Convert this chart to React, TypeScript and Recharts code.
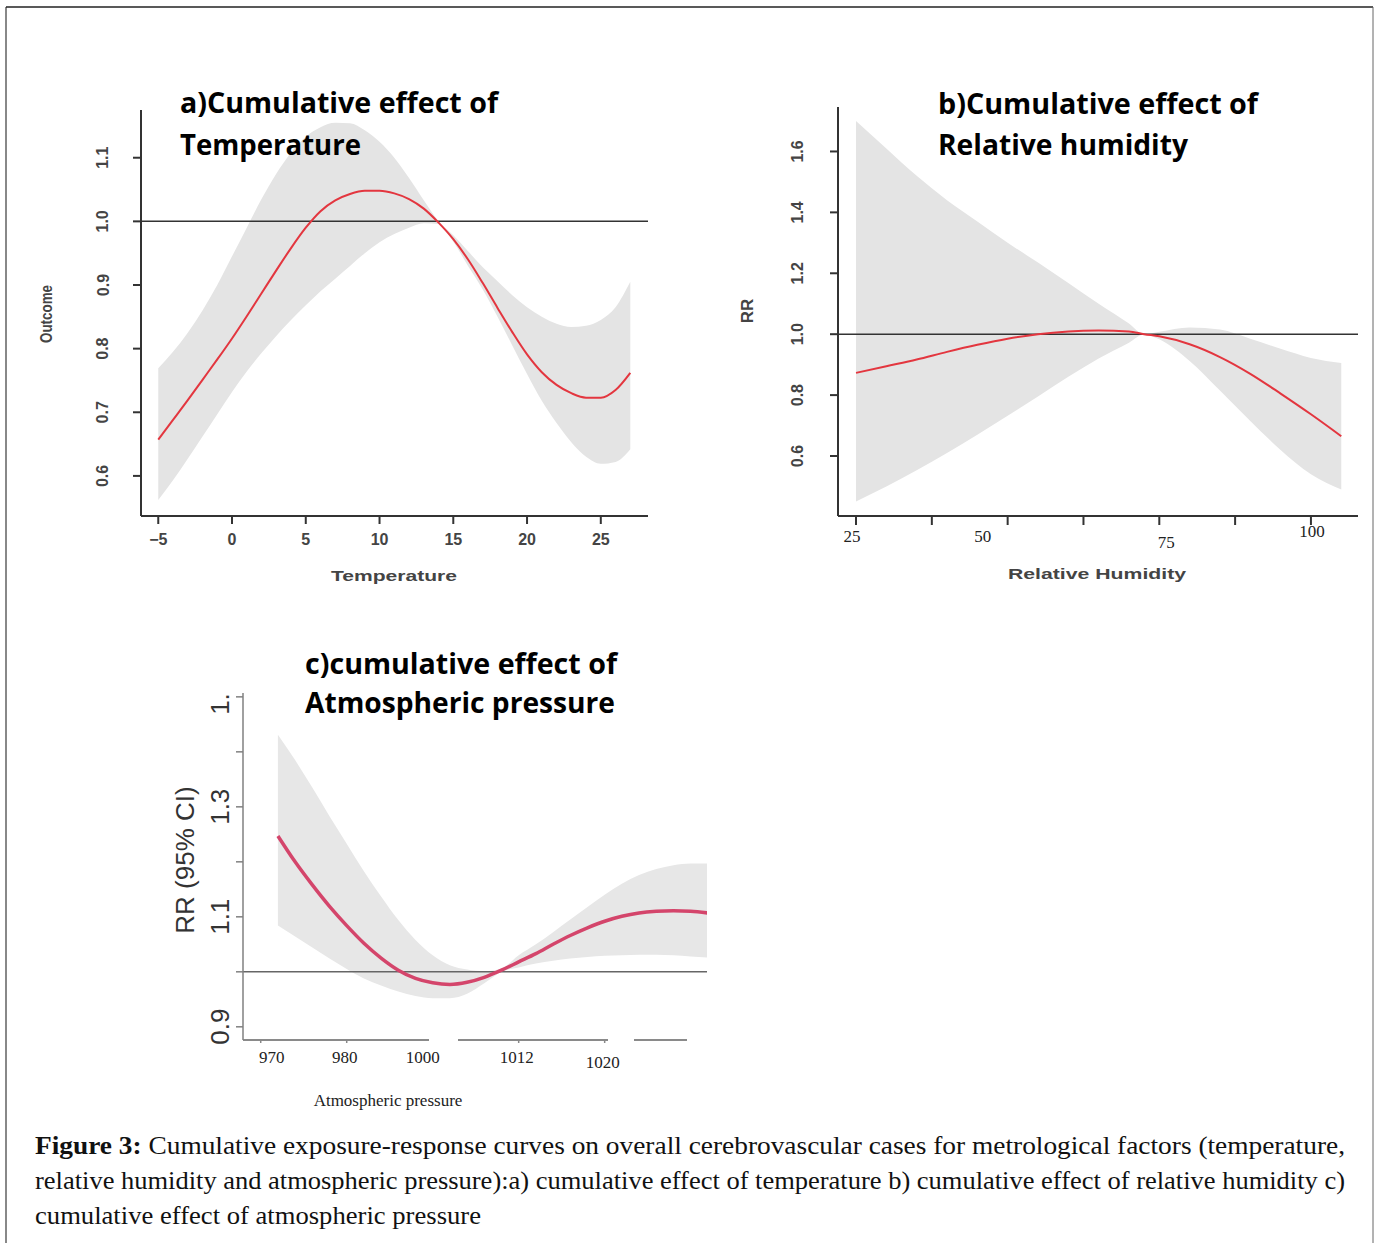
import React from "react";
import { ComposedChart, Area, Line, XAxis, YAxis, ReferenceLine } from "recharts";

// a) temperature
const TEMP = [-5, -4, -3, -2, -1, 0, 1, 2, 3, 4, 5, 6, 7, 8, 9, 10, 11, 12, 13, 14, 15, 16, 17, 18, 19, 20, 21, 22, 23, 24, 25, 26, 27];
const TEMP_RR = [0.657, 0.688, 0.719, 0.751, 0.783, 0.816, 0.851, 0.887, 0.923, 0.958, 0.99, 1.016, 1.033, 1.043, 1.048, 1.048, 1.044, 1.035, 1.02, 0.998, 0.972, 0.94, 0.903, 0.864, 0.826, 0.791, 0.763, 0.743, 0.73, 0.723, 0.723, 0.735, 0.762];
const TEMP_LO = [0.562, 0.593, 0.627, 0.662, 0.697, 0.732, 0.764, 0.793, 0.82, 0.845, 0.868, 0.89, 0.91, 0.93, 0.95, 0.967, 0.98, 0.99, 0.997, 0.996, 0.968, 0.93, 0.893, 0.85, 0.805, 0.76, 0.718, 0.683, 0.653, 0.63, 0.619, 0.622, 0.642];
const TEMP_HI = [0.769, 0.795, 0.825, 0.86, 0.9, 0.945, 0.99, 1.035, 1.075, 1.108, 1.133, 1.148, 1.155, 1.154, 1.143, 1.125, 1.1, 1.068, 1.033, 1.0, 0.978, 0.953, 0.928, 0.906, 0.884, 0.865, 0.85, 0.839, 0.834, 0.836, 0.845, 0.865, 0.905];
const TEMP_X_TICKS = [-5, 0, 5, 10, 15, 20, 25];
const TEMP_Y_TICKS = [0.6, 0.7, 0.8, 0.9, 1.0, 1.1];

// b) relative humidity
const RH = [25, 30, 35, 40, 45, 50, 55, 60, 65, 70, 72.5, 75, 80, 85, 90, 95, 100, 105];
const RH_RR = [0.873, 0.895, 0.917, 0.942, 0.965, 0.985, 1.0, 1.009, 1.012, 1.009, 1.0, 0.993, 0.967, 0.925, 0.87, 0.805, 0.737, 0.665];
const RH_LO = [0.451, 0.5, 0.553, 0.61, 0.67, 0.732, 0.795, 0.86, 0.92, 0.972, 1.0, 0.983, 0.912, 0.815, 0.715, 0.62, 0.54, 0.49];
const RH_HI = [1.7, 1.61, 1.52, 1.44, 1.37, 1.3, 1.235, 1.168, 1.1, 1.035, 1.0, 1.008, 1.022, 1.015, 0.985, 0.952, 0.922, 0.905];
const RH_X_TICKS = [25, 37.5, 50, 62.5, 75, 87.5, 100];
const RH_X_LABELS = ["25", "", "50", "", "75", "", "100"];
const RH_Y_TICKS = [0.6, 0.8, 1.0, 1.2, 1.4, 1.6];

// c) atmospheric pressure
const PRES = [972, 974, 976, 978, 980, 982, 984, 986, 988, 990, 992, 994, 996, 998, 1000, 1002, 1004, 1006, 1008, 1010, 1012, 1014, 1016, 1018, 1020, 1022];
const PRES_RR = [1.247, 1.2, 1.158, 1.119, 1.084, 1.052, 1.025, 1.003, 0.988, 0.98, 0.977, 0.981, 0.99, 1.003, 1.018, 1.033, 1.05, 1.066, 1.08, 1.092, 1.101, 1.107, 1.11, 1.111, 1.11, 1.107];
const PRES_LO = [1.084, 1.064, 1.044, 1.024, 1.005, 0.988, 0.975, 0.964, 0.956, 0.952, 0.952, 0.96, 0.979, 1.0, 1.008, 1.015, 1.02, 1.024, 1.027, 1.029, 1.03, 1.031, 1.031, 1.03, 1.028, 1.026];
const PRES_HI = [1.431, 1.385, 1.335, 1.283, 1.233, 1.183, 1.137, 1.094, 1.058, 1.03, 1.012, 1.004, 1.001, 1.006, 1.03, 1.05, 1.072, 1.095, 1.118, 1.14, 1.16, 1.176, 1.187, 1.194, 1.197, 1.197];
const PRES_X_TICKS = [970, 980, 990, 1000, 1010];
const PRES_X_LABELS = ["970", "980", "1000", "1012", "1020"];
const PRES_Y_TICKS = [0.9, 1.0, 1.1, 1.2, 1.3, 1.4, 1.5];
const PRES_Y_LABELS = ["0.9", "", "1.1", "", "1.3", "", "1."];

const rows = (xs: number[], rr: number[], lo: number[], hi: number[]) =>
  xs.map((x, i) => ({ x, rr: rr[i], band: [lo[i], hi[i]] }));

const tempData = rows(TEMP, TEMP_RR, TEMP_LO, TEMP_HI);
const rhData = rows(RH, RH_RR, RH_LO, RH_HI);
const presData = rows(PRES, PRES_RR, PRES_LO, PRES_HI);

const SANS = "Liberation Sans, Arial, sans-serif";
const SERIF = "Liberation Serif, Times New Roman, serif";
const TITLE = "Open Sans, Noto Sans, sans-serif";

// rotated y tick label, centred `offset` px left of the tick end
const sideTick = (offset: number, font: any, fmt: (v: number) => string, anchor = "middle", shift = 0) =>
  (props: any) => {
    const { x, y, payload } = props;
    const label = fmt(payload.value);
    if (!label) return <g />;
    const cx = x - offset;
    const cy = y + shift;
    return (
      <text x={cx} y={cy} transform={`rotate(-90 ${cx} ${cy})`} textAnchor={anchor} dominantBaseline="central" {...font}>
        {label}
      </text>
    );
  };

const tempXTick = (props: any) => {
  const { x, y, payload } = props;
  const v = payload.value;
  return (
    <text x={x} y={y + 15} textAnchor="middle" dominantBaseline="central" fontFamily={SANS} fontWeight="bold" fontSize={16} fill="#444">
      {v < 0 ? `\u2212${Math.abs(v)}` : v}
    </text>
  );
};

const RH_NUDGE = [[-4, 0], [0, 0], [-25, 0], [0, 0], [7, 6], [0, 0], [1, -5]];
const rhXTick = (props: any) => {
  const { x, y, payload } = props;
  const i = RH_X_TICKS.indexOf(payload.value);
  if (!RH_X_LABELS[i]) return <g />;
  return (
    <text x={x + RH_NUDGE[i][0]} y={y + 11 + RH_NUDGE[i][1]} textAnchor="middle" dominantBaseline="central" fontFamily={SERIF} fontSize={17} fill="#222">
      {RH_X_LABELS[i]}
    </text>
  );
};

const PRES_NUDGE = [[11, 0], [-2, 0], [-10, 0], [-2, 0], [-2, 5]];
const presXTick = (props: any) => {
  const { x, y, payload } = props;
  const i = PRES_X_TICKS.indexOf(payload.value);
  return (
    <g>
      {i !== 2 && <line x1={x} x2={x} y1={y - 3} y2={y} stroke="#888" strokeWidth={1.5} />}
      <text x={x + PRES_NUDGE[i][0]} y={y + 14 + PRES_NUDGE[i][1]} textAnchor="middle" dominantBaseline="central" fontFamily={SERIF} fontSize={17} fill="#222">
        {PRES_X_LABELS[i]}
      </text>
    </g>
  );
};

const boldY = { fontFamily: SANS, fontWeight: "bold", fontSize: 16, fill: "#444" };

const Panel = ({ left, top, width, height, margin, yWidth, data, xDomain, yDomain, xTicks, yTicks, xTick, yTick, axisColor, axisWidth, xAxisLine, tickSize, refColor, bandFill, lineColor, lineWidth }: any) => (
  <div style={{ position: "absolute", left, top, width, height }}>
    <ComposedChart width={width} height={height} data={data} margin={margin}>
      <XAxis
        type="number"
        dataKey="x"
        domain={xDomain}
        allowDataOverflow
        ticks={xTicks}
        interval={0}
        height={60}
        tick={xTick}
        tickSize={tickSize[0]}
        tickMargin={0}
        tickLine={tickSize[0] > 3 ? { stroke: axisColor, strokeWidth: axisWidth } : false}
        axisLine={xAxisLine || { stroke: axisColor, strokeWidth: axisWidth }}
      />
      <YAxis
        type="number"
        domain={yDomain}
        allowDataOverflow
        ticks={yTicks}
        interval={0}
        width={yWidth}
        tick={yTick}
        tickSize={tickSize[1]}
        tickMargin={0}
        tickLine={{ stroke: axisColor, strokeWidth: axisWidth }}
        axisLine={{ stroke: axisColor, strokeWidth: axisWidth }}
      />
      <Area type="monotone" dataKey="band" fill={bandFill} fillOpacity={1} stroke="none" isAnimationActive={false} />
      <ReferenceLine y={1} stroke={refColor} strokeWidth={1.5} />
      <Line type="monotone" dataKey="rr" stroke={lineColor} strokeWidth={lineWidth} dot={false} isAnimationActive={false} />
    </ComposedChart>
  </div>
);

export default function App() {
  return (
    <div style={{ position: "absolute", left: 0, top: 0, width: 1379, height: 1243, background: "#fff", overflow: "hidden" }}>
      <Panel
        left={20} top={90} width={650} height={520}
        margin={{ top: 20, right: 22, bottom: 34, left: 41 }} yWidth={80}
        data={tempData} xDomain={[-6.17, 28.2]} yDomain={[0.537, 1.175]}
        xTicks={TEMP_X_TICKS} yTicks={TEMP_Y_TICKS}
        xTick={tempXTick} yTick={sideTick(30, boldY, (v) => v.toFixed(1))}
        axisColor="#333" axisWidth={2} tickSize={[8, 8]}
        refColor="#333" bandFill="#e4e4e4" lineColor="#e3363f" lineWidth={2}
      />
      <Panel
        left={720} top={90} width={659} height={520}
        margin={{ top: 17, right: 21, bottom: 34, left: 38 }} yWidth={80}
        data={rhData} xDomain={[22.03, 107.76]} yDomain={[0.403, 1.746]}
        xTicks={RH_X_TICKS} yTicks={RH_Y_TICKS}
        xTick={rhXTick} yTick={sideTick(32, boldY, (v) => v.toFixed(1))}
        axisColor="#333" axisWidth={2} tickSize={[9, 8]}
        refColor="#333" bandFill="#e4e4e4" lineColor="#e3363f" lineWidth={2}
      />
      <Panel
        left={160} top={680} width={580} height={450}
        margin={{ top: 13, right: 33, bottom: 30, left: 23 }} yWidth={60}
        data={presData} xDomain={[967.94, 1021.9]} yDomain={[0.876, 1.507]}
        xTicks={PRES_X_TICKS} yTicks={PRES_Y_TICKS}
        xTick={presXTick}
        yTick={sideTick(16, { fontFamily: SANS, fontSize: 26, fill: "#333" }, (v) => PRES_Y_LABELS[PRES_Y_TICKS.indexOf(v)], "start", 18)}
        axisColor="#808080" axisWidth={1.5} tickSize={[3, 7]}
        xAxisLine={{ stroke: "#8a8a8a", strokeWidth: 2, strokeDasharray: "186 29 150 26 53 40" }}
        refColor="#666" bandFill="#e7e7e7" lineColor="#d4456b" lineWidth={3.5}
      />

      <svg width={1379} height={1243} style={{ position: "absolute", left: 0, top: 0, pointerEvents: "none" }}>
        <line x1={6} y1={7} x2={6} y2={1243} stroke="#888" strokeWidth={2} />
        <line x1={6} y1={7} x2={1373} y2={7} stroke="#222" strokeWidth={1.5} />
        <line x1={1373} y1={7} x2={1373} y2={1243} stroke="#666" strokeWidth={1} />

        <g fontFamily={TITLE} fontWeight="bold" fontSize={28} fill="#000">
          <text x={180} y={113} textLength={318} lengthAdjust="spacingAndGlyphs">a)Cumulative effect of</text>
          <text x={180} y={155} textLength={181} lengthAdjust="spacingAndGlyphs">Temperature</text>
          <text x={938} y={114} textLength={320} lengthAdjust="spacingAndGlyphs">b)Cumulative effect of</text>
          <text x={938} y={155} textLength={250} lengthAdjust="spacingAndGlyphs">Relative humidity</text>
          <text x={305} y={674} textLength={312} lengthAdjust="spacingAndGlyphs">c)cumulative effect of</text>
          <text x={305} y={713} textLength={310} lengthAdjust="spacingAndGlyphs">Atmospheric pressure</text>
        </g>

        <g fontFamily={SANS} fontWeight="bold" fontSize={17} fill="#444">
          <text x={46} y={314} transform="rotate(-90 46 314)" textAnchor="middle" dominantBaseline="central" textLength={58} lengthAdjust="spacingAndGlyphs">Outcome</text>
          <text x={394} y={575} textAnchor="middle" dominantBaseline="central" fontSize={15} textLength={126} lengthAdjust="spacingAndGlyphs">Temperature</text>
          <text x={747} y={311} transform="rotate(-90 747 311)" textAnchor="middle" dominantBaseline="central">RR</text>
          <text x={1097} y={573} textAnchor="middle" dominantBaseline="central" fontSize={15} textLength={178} lengthAdjust="spacingAndGlyphs">Relative Humidity</text>
        </g>
        <text x={185} y={860} transform="rotate(-90 185 860)" textAnchor="middle" dominantBaseline="central" fontFamily={SANS} fontSize={26} fill="#333">RR (95% CI)</text>
        <text x={388} y={1100} textAnchor="middle" dominantBaseline="central" fontFamily={SERIF} fontSize={17} fill="#222">Atmospheric pressure</text>

        <g fontFamily={SERIF} fontSize={25} fill="#111">
          <text x={35} y={1154} textLength={1310} lengthAdjust="spacingAndGlyphs">
            <tspan fontWeight="bold">Figure 3:</tspan> Cumulative exposure-response curves on overall cerebrovascular cases for metrological factors (temperature,
          </text>
          <text x={35} y={1189} textLength={1310} lengthAdjust="spacingAndGlyphs">
            relative humidity and atmospheric pressure):a) cumulative effect of temperature b) cumulative effect of relative humidity c)
          </text>
          <text x={35} y={1224} textLength={446} lengthAdjust="spacingAndGlyphs">cumulative effect of atmospheric pressure</text>
        </g>
      </svg>
    </div>
  );
}
